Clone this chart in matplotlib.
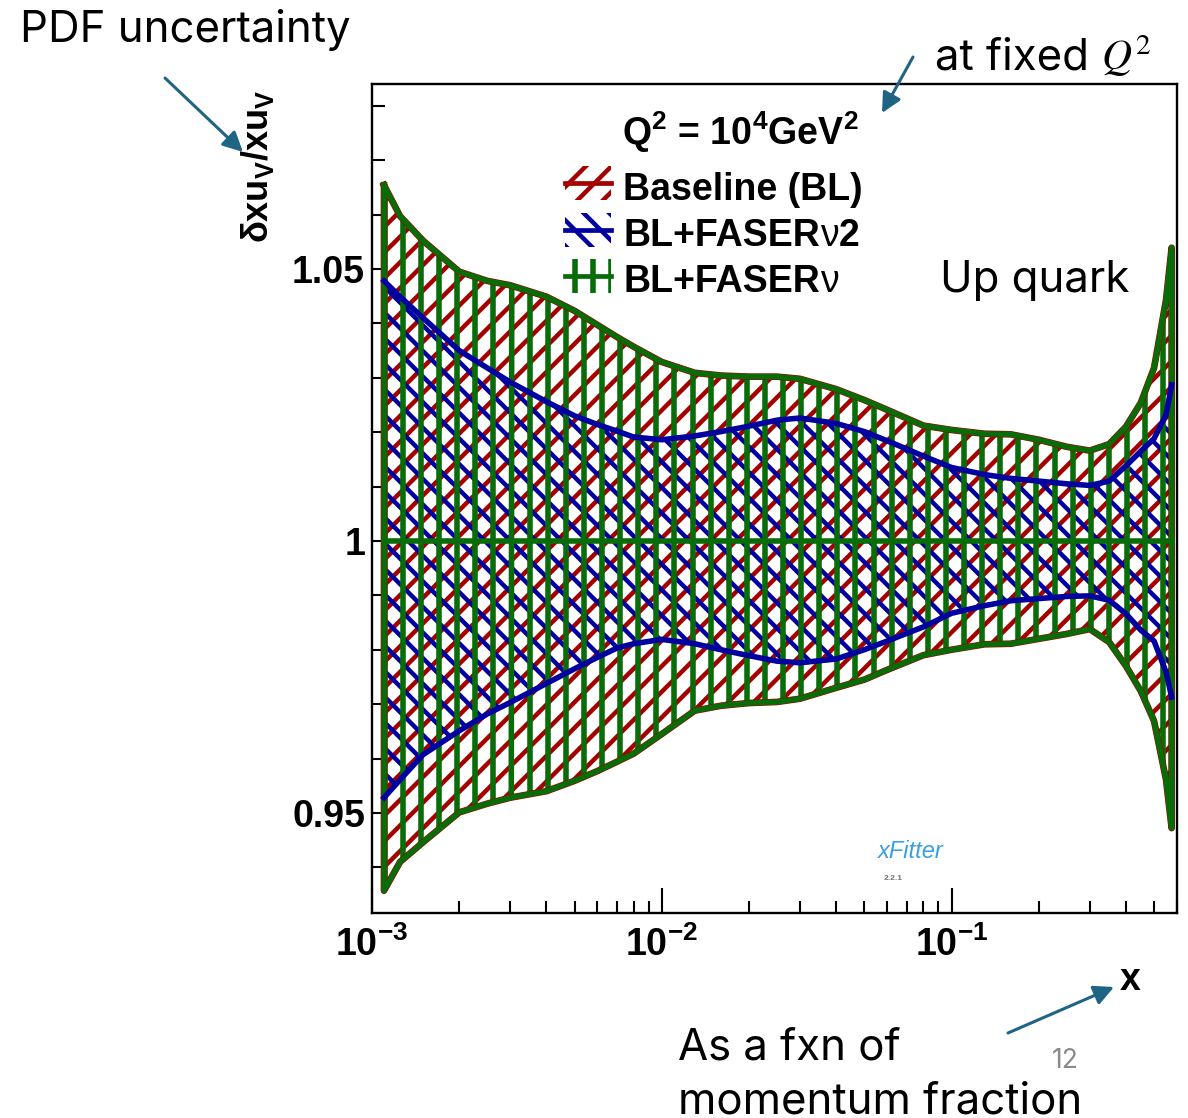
import numpy as np
import matplotlib
matplotlib.use('Agg')
import matplotlib.pyplot as plt
from matplotlib.collections import LineCollection
from matplotlib.lines import Line2D
from matplotlib.path import Path
from matplotlib.transforms import IdentityTransform
from matplotlib.ticker import LogLocator, MultipleLocator, NullFormatter

W, H, DPI = 1188, 1118, 100

plt.rcParams['font.family'] = ['Liberation Sans', 'DejaVu Sans']
plt.rcParams['mathtext.fontset'] = 'custom'
plt.rcParams['mathtext.rm'] = 'Liberation Sans'
plt.rcParams['mathtext.bf'] = 'Liberation Sans:bold'
plt.rcParams['mathtext.it'] = 'Liberation Sans:italic'

# momentum fraction grid
x = [1.1e-3, 1.25e-3, 1.5e-3, 2e-3, 2.5e-3, 3e-3, 4e-3, 5e-3, 6e-3, 7e-3, 8e-3,
     1e-2, 1.3e-2, 1.6e-2, 2e-2, 2.5e-2, 3e-2, 4e-2, 5e-2, 6e-2, 8e-2,
     0.1, 0.13, 0.16, 0.2, 0.25, 0.3, 0.35, 0.4, 0.45, 0.5, 0.55, 0.575]

# baseline (BL) relative uncertainty band
bl_hi = [1.0654, 1.0597, 1.0552, 1.0495, 1.0478, 1.0470, 1.0449, 1.0423, 1.0397, 1.0375, 1.0357,
         1.0329, 1.0309, 1.0304, 1.0302, 1.0302, 1.0298, 1.0279, 1.0259, 1.0241, 1.0212,
         1.0204, 1.0197, 1.0196, 1.0186, 1.0173, 1.0166, 1.0178, 1.0210, 1.0254, 1.0318, 1.0443, 1.0539]
bl_lo = [0.9357, 0.9410, 0.9446, 0.9501, 0.9517, 0.9528, 0.9540, 0.9559, 0.9577, 0.9594, 0.9609,
         0.9645, 0.9688, 0.9697, 0.9702, 0.9704, 0.9710, 0.9730, 0.9745, 0.9763, 0.9790,
         0.9800, 0.9810, 0.9811, 0.9820, 0.9829, 0.9838, 0.9814, 0.9770, 0.9724, 0.9669, 0.9561, 0.9472]

# BL + FASERnu2
nu2_hi = [1.0478, 1.0449, 1.0410, 1.0350, 1.0318, 1.0292, 1.0256, 1.0230, 1.0214, 1.0202, 1.0191,
          1.0186, 1.0193, 1.0201, 1.0211, 1.0222, 1.0226, 1.0216, 1.0201, 1.0184, 1.0156,
          1.0135, 1.0122, 1.0115, 1.0110, 1.0105, 1.0102, 1.0110, 1.0138, 1.0165, 1.0188, 1.0232, 1.0287]
nu2_lo = [0.9528, 0.9561, 0.9607, 0.9651, 0.9682, 0.9703, 0.9738, 0.9765, 0.9786, 0.9803, 0.9811,
          0.9819, 0.9811, 0.9800, 0.9789, 0.9779, 0.9776, 0.9783, 0.9800, 0.9816, 0.9842,
          0.9867, 0.9881, 0.9890, 0.9894, 0.9898, 0.9899, 0.9891, 0.9866, 0.9836, 0.9816, 0.9759, 0.9713]

# BL + FASERnu: coincides with the baseline band at this scale
nu_hi = list(bl_hi)
nu_lo = list(bl_lo)

central = 1.0

x_ticks = [1e-3, 1e-2, 1e-1]
x_labels = [r'$\mathbf{10^{-3}}$', r'$\mathbf{10^{-2}}$', r'$\mathbf{10^{-1}}$']
y_ticks = [0.95, 1.0, 1.05]
y_labels = ['0.95', '1', '1.05']

RED = '#a50000'
BLUE = '#0000a0'
GREEN = '#086c08'
ARROW = '#1f6485'
SPACING = 18.1  # px between hatch lines
LW_DIAG, LW_VERT, LW_EDGE = 3.2, 4.0, 4.0

fig = plt.figure(figsize=(W / DPI, H / DPI), dpi=DPI)
ax = fig.add_axes([372 / W, 1 - 913 / H, (1177 - 372) / W, (913 - 84) / H])
ax.set_xscale('log')
ax.set_xlim(1e-3, 0.6)
ax.set_ylim(0.9316, 1.0840)


def fpos(px, py):
    return px / W, 1 - py / H


def hatch(clip, color, angle, lw, phase=0.0, z=2):
    # parallel lines in pixel space, clipped to a (path, transform) pair
    th = np.radians(angle)
    u = np.array([np.cos(th), np.sin(th)])
    n = np.array([-np.sin(th), np.cos(th)])
    c = np.array([W / 2, H / 2])
    L = np.hypot(W, H)
    m = int(L / SPACING) + 2
    segs = [[c + n * (k * SPACING + phase) - u * L, c + n * (k * SPACING + phase) + u * L]
            for k in range(-m, m + 1)]
    lc = LineCollection(segs, colors=color, linewidths=lw, transform=IdentityTransform(),
                        capstyle='butt', zorder=z)
    ax.add_collection(lc, autolim=False)
    lc.set_clip_path(*clip)


def band(lo, hi):
    verts = list(zip(x, hi)) + list(zip(x[::-1], lo[::-1])) + [(x[0], hi[0])]
    return Path(verts, closed=True), ax.transData


hatch(band(bl_lo, bl_hi), RED, 45, LW_DIAG, phase=3, z=2)
hatch(band(nu2_lo, nu2_hi), BLUE, -45, LW_DIAG, phase=8, z=3)
hatch(band(nu_lo, nu_hi), GREEN, 90, LW_VERT, phase=10.1, z=4)

# band outlines
ox = x + x[::-1] + [x[0]]
ax.plot(ox, bl_hi + bl_lo[::-1] + [bl_hi[0]], color=RED, lw=LW_EDGE + 0.8, zorder=5,
        solid_joinstyle='round')
ax.plot(ox, nu_hi + nu_lo[::-1] + [nu_hi[0]], color=GREEN, lw=LW_EDGE, zorder=6,
        solid_joinstyle='round')
ax.plot(x, nu2_hi, color=BLUE, lw=LW_EDGE, zorder=7, solid_joinstyle='round')
ax.plot(x, nu2_lo, color=BLUE, lw=LW_EDGE, zorder=7, solid_joinstyle='round')
ax.plot([x[0], x[-1]], [central, central], color=GREEN, lw=LW_EDGE, zorder=8)

# axes styling
for s in ax.spines.values():
    s.set_linewidth(1.7)
ax.set_xticks(x_ticks, labels=x_labels)
ax.xaxis.set_minor_locator(LogLocator(base=10, subs=np.arange(2, 10)))
ax.xaxis.set_minor_formatter(NullFormatter())
ax.set_yticks(y_ticks, labels=y_labels)
ax.yaxis.set_minor_locator(MultipleLocator(0.01))
ax.tick_params(which='both', direction='in', top=False, right=False, width=1.5, colors='black')
ax.tick_params(axis='x', which='major', length=18, pad=10, labelsize=27)
ax.tick_params(axis='x', which='minor', length=9)
ax.tick_params(axis='y', which='major', length=10, pad=5, labelsize=27)
ax.tick_params(axis='y', which='minor', length=9)
for lab in ax.get_yticklabels():
    lab.set_fontweight('bold')

fig.text(*fpos(258, 90), r'$\mathbf{\delta xu_{V}/xu_{V}}$', rotation=90, ha='center', va='top',
         fontsize=26)
fig.text(*fpos(1130, 990), 'x', fontsize=27, fontweight='bold', ha='center', va='baseline')

# legend
renderer = fig.canvas.get_renderer()


def runs(px, py, parts):
    for s, kw in parts:
        t = fig.text(*fpos(px, py), s, va='baseline', **kw)
        px += t.get_window_extent(renderer).width


bold = dict(fontsize=27, fontweight='bold')
thin = dict(fontsize=27, fontweight='normal')
runs(622, 145, [(r'Q$^{\mathbf{2}}$ = 10$^{\mathbf{4}}$GeV$^{\mathbf{2}}$', bold)])
runs(623, 200, [('Baseline (BL)', bold)])
runs(623, 246, [('BL+FASER', bold), ('ν', thin), ('2', bold)])
runs(623, 292, [('BL+FASER', bold), ('ν', thin)])

for cy, color, angle, lw, ph in [(183, RED, 45, LW_DIAG, 12), (230, BLUE, -45, LW_DIAG, 2),
                                  (276, GREEN, 90, LW_VERT, 1.0)]:
    x0, x1, y0, y1 = 565, 611, H - cy - 17, H - cy + 17
    box = Path([(x0, y0), (x1, y0), (x1, y1), (x0, y1), (x0, y0)], closed=True)
    hatch((box, IdentityTransform()), color, angle, lw, phase=ph, z=9)
    ln = Line2D([x0, x1], [H - cy, H - cy], color=color, lw=3.4, transform=IdentityTransform(),
                zorder=9, clip_on=False)
    ax.add_line(ln)

# xFitter mark
fig.text(*fpos(911, 858), 'xFitter', fontsize=17, style='italic', color='#3a9fe0', ha='center',
         va='baseline')
fig.text(*fpos(893, 880), '2.2.1', fontsize=6, fontweight='bold', color='#777777', ha='center',
         va='baseline')

# annotations around the plot
note = dict(family=['Inter', 'DejaVu Sans'], fontsize=31.5, color='black')
fig.text(*fpos(20, 42), 'PDF uncertainty', va='baseline', **note)
fig.text(*fpos(940, 292), 'Up quark', va='baseline', **note)
fig.text(*fpos(678, 1060), 'As a fxn of', va='baseline', **note)
fig.text(*fpos(678, 1113), 'momentum fraction', va='baseline', **note)
fig.text(*fpos(1052, 1068), '12', va='baseline', family=['Inter', 'DejaVu Sans'], fontsize=19,
         color='#8a8a8a')
t = fig.text(*fpos(935, 70), 'at fixed ', va='baseline', **note)
wq = t.get_window_extent(renderer).width
fig.text(*fpos(935 + wq, 70), r'$Q^2$', va='baseline', fontsize=30, math_fontfamily='stix')

arrow = dict(arrowstyle='-|>', color=ARROW, lw=2.2, mutation_scale=30, shrinkA=0, shrinkB=0)
for (x0, y0), (x1, y1) in [((165, 78), (243, 152)), ((913, 57), (882, 113)),
                           ((1008, 1033), (1114, 987))]:
    ax.annotate('', xy=(x1, H - y1), xytext=(x0, H - y0), xycoords='figure pixels',
                textcoords='figure pixels', arrowprops=arrow, annotation_clip=False)

fig.savefig('out.png', dpi=DPI)
